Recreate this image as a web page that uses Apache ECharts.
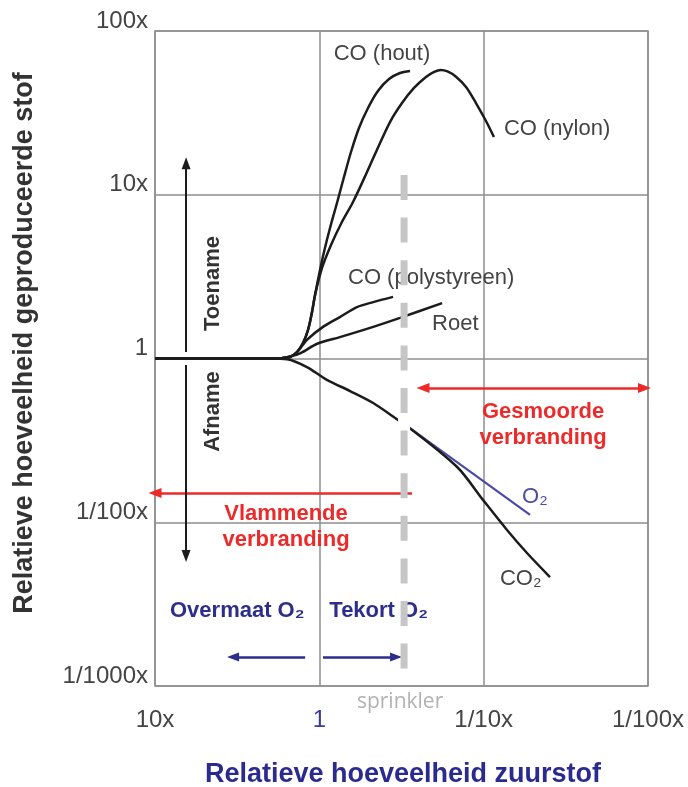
<!DOCTYPE html>
<html><head><meta charset="utf-8">
<script src="https://cdn.jsdelivr.net/npm/echarts@6/dist/echarts.min.js"></script>
<style>html,body{margin:0;padding:0;background:#fff}#c{width:688px;height:787px}</style>
</head><body><div id="c"></div>
<script>
// ---- tick labels ----
const xTickValues = [10, 1, 0.1, 0.01];
const xTickLabels = ['10x', '1', '1/10x', '1/100x'];
const yTickValues = [100, 10, 1, 0.1, 0.01];
const yTickLabels = ['100x', '10x', '1', '1/100x', '1/1000x'];

// ---- series values [relative oxygen, relative amount produced] ----
const coHout = [[10,1],[5,1],[3,1],[2,1],[1.7,1.005],[1.508,1.02],[1.367,1.096],[1.257,1.244],[1.172,1.493],[1.108,1.923],[1.062,2.442],[1.005,3.236],[0.937,4.471],[0.861,6.265],[0.781,8.905],[0.708,12.83],[0.6417,18.24],[0.5737,25.56],[0.5056,33.88],[0.44,43.0],[0.3767,50.9],[0.323,55.41],[0.2806,57.0]];
const coNylon = [[10,1],[5,1],[3,1],[2,1],[1.7,1.005],[1.508,1.02],[1.367,1.096],[1.257,1.244],[1.172,1.493],[1.108,1.923],[1.062,2.442],[0.963,3.572],[0.849,4.934],[0.735,6.7],[0.625,9.0],[0.528,12.9],[0.445,18.9],[0.3715,27.8],[0.314,36.3],[0.2654,44.9],[0.2244,52.4],[0.2,56.3],[0.182,57.8],[0.166,56.6],[0.1474,52.6],[0.128,45.5],[0.1114,36.3],[0.0968,28.2],[0.0866,22.53]];
const coPolystyreen = [[10,1],[5,1],[3,1],[2,1],[1.7,1.005],[1.5,1.03],[1.37,1.09],[1.19,1.3],[0.95,1.56],[0.75,1.79],[0.59,2.06],[0.47,2.21],[0.356,2.38]];
const roet = [[10,1],[5,1],[3,1],[2,1],[1.7,1.005],[1.5,1.03],[1.3,1.08],[1.03,1.23],[0.75,1.35],[0.47,1.56],[0.323,1.77],[0.179,2.18]];
const afname = [[10,1],[5,1],[3,1],[2,1],[1.57,0.99],[1.19,0.887],[0.9,0.74],[0.65,0.633],[0.47,0.535],[0.332,0.421],[0.288,0.382]];
const o2 = [[0.288,0.382],[0.0522,0.111]];
const co2 = [[0.288,0.382],[0.145,0.2175],[0.101,0.137],[0.0721,0.0897],[0.0545,0.0649],[0.0395,0.0463]];
const sprinkler = [[0.305,13.2],[0.305,0.01]];
const sprinklerGap = [[0.305,0.445],[0.305,0.365]];

const FONT = '"Liberation Sans", Arial, sans-serif';
const RED = '#ec2a2a', NAVY = '#2d2d8c', INK = '#1c1c1c', GRID = '#8e8e8e';

function tickFmt(values, labels, blueOne){
  return function(v){
    const e = Math.round(Math.log10(v));
    const i = values.findIndex(t => Math.round(Math.log10(t)) === e);
    if (i < 0) return '';
    const s = labels[i];
    return (blueOne && s === '1') ? '{b|1}' : s;
  };
}
function curve(name, data, color, width, smooth){
  return {name, type:'line', data, showSymbol:false, symbol:'none', smooth: smooth,
    lineStyle:{color, width}, silent:true, z:3};
}
function arrows(name, color, width, size, pairs){
  return {name, type:'line', data:[], silent:true, z:4,
    markLine:{silent:true, animation:false, symbolSize:size, label:{show:false},
      lineStyle:{color, width, type:'solid'}, emphasis:{disabled:true},
      data: pairs.map(p => [{coord:p[0], symbol:p[2]}, {coord:p[1], symbol:p[3]}])}};
}

const chart = echarts.init(document.getElementById('c'));
chart.setOption({
  animation:false,
  backgroundColor:'#fff',
  grid:{left:155, top:31, width:493, height:655, show:true, borderColor:GRID, borderWidth:1.5},
  xAxis:{type:'log', logBase:10, min:0.01, max:10, inverse:true,
    axisLine:{show:false}, axisTick:{show:false},
    splitLine:{show:true, lineStyle:{color:GRID, width:1.5}},
    axisLabel:{margin:22, fontSize:24, fontFamily:FONT, color:'#444',
      formatter: tickFmt(xTickValues, xTickLabels, true),
      rich:{b:{color:'#3b3b9e', fontSize:24, fontFamily:FONT}}}},
  yAxis:{type:'log', logBase:10, min:0.01, max:100,
    axisLine:{show:false}, axisTick:{show:false},
    splitLine:{show:true, lineStyle:{color:GRID, width:1.5}},
    axisLabel:{margin:7, fontSize:24, fontFamily:FONT, color:'#444', verticalAlign:'bottom', lineHeight:20,
      formatter: tickFmt(yTickValues, yTickLabels, false)}},
  series:[
    curve('CO (hout)', coHout, INK, 2.5, 0.3),
    curve('CO (nylon)', coNylon, INK, 2.5, 0.3),
    curve('CO (polystyreen)', coPolystyreen, INK, 2.5, 0.3),
    curve('Roet', roet, INK, 2.5, 0.3),
    curve('Afname', afname, INK, 2.5, 0.3),
    curve('O2', o2, '#4b4ba6', 2.2, false),
    curve('CO2', co2, INK, 2.5, 0.3),
    {name:'gap', type:'line', data:sprinklerGap, symbol:'none', silent:true, z:11,
      lineStyle:{color:'#ffffff', width:12}},
    {name:'sprinkler', type:'line', data:sprinkler, symbol:'none', silent:true, z:12,
      lineStyle:{color:'#c6c6c6', width:7, type:[25,17.6]}},
    arrows('red', RED, 2.5, [10,13], [
      [[0.234,0.66],[0.0105,0.66],'triangle','triangle'],
      [[0.273,0.151],[10,0.151],'none','triangle']
    ]),
    arrows('blue', NAVY, 2.5, [9,12], [
      [[1.22,0.01503],[3.35,0.01503],'none','triangle'],
      [[0.95,0.01503],[0.3414,0.01503],'none','triangle']
    ]),
    arrows('black', INK, 2, [9,12], [
      [[6.47,1.096],[6.47,15.6],'none','triangle'],
      [[6.47,0.913],[6.47,0.0622],'none','triangle']
    ])
  ]
});

// ---- text annotations anchored at data coordinates ----
const notes = [
  {t:'CO (hout)', at:[0.55,80], dx:20, dy:7, align:'center', font:'22px '+FONT, fill:'#444'},
  {t:'CO (nylon)', at:[0.0866,22.53], dx:10, dy:-8, align:'left', font:'22px '+FONT, fill:'#444'},
  {t:'CO (polystyreen)', at:[0.95,3.0], dx:25, dy:-2, align:'left', font:'22px '+FONT, fill:'#444'},
  {t:'Roet', at:[0.179,2.18], dx:-10, dy:21, align:'left', font:'22px '+FONT, fill:'#444'},
  {t:'O₂', at:[0.0522,0.111], dx:-8, dy:-18, align:'left', font:'22px '+FONT, fill:'#4b4ba6'},
  {t:'CO₂', at:[0.0395,0.0463], dx:-50, dy:2, align:'left', font:'22px '+FONT, fill:'#444'},
  {t:'Gesmoorde\nverbranding', at:[0.0522,0.111], dx:13, dy:-90, align:'center', font:'bold 22px '+FONT, fill:RED, lh:26},
  {t:'Vlammende\nverbranding', at:[10,0.151], dx:131, dy:34, align:'center', font:'bold 22px '+FONT, fill:RED, lh:26},
  {t:'Toename', at:[6.47,1], dx:27, dy:-75, align:'center', font:'bold 22px '+FONT, fill:'#333', rot:true},
  {t:'Afname', at:[6.47,1], dx:27, dy:53, align:'center', font:'bold 22px '+FONT, fill:'#333', rot:true},
  {t:'Overmaat O₂', at:[10,0.01503], dx:15, dy:-46, align:'left', font:'bold 22px '+FONT, fill:NAVY},
  {t:'Tekort O₂', at:[1,0.01503], dx:10, dy:-46, align:'left', font:'bold 22px '+FONT, fill:NAVY},
];
const graphics = notes.map(n => {
  const p = chart.convertToPixel({gridIndex:0}, n.at);
  return {type:'text', x:p[0]+(n.dx||0), y:p[1]+(n.dy||0), rotation:n.rot?Math.PI/2:0, z:10, silent:true,
    style:{text:n.t, font:n.font, fill:n.fill, align:n.align, textAlign:n.align,
      verticalAlign:'middle', textVerticalAlign:'middle', lineHeight:n.lh||24}};
});
const sp = chart.convertToPixel({gridIndex:0}, [0.305, 0.01]);
graphics.push({type:'text', x:sp[0]-4, y:sp[1]+16, z:20, silent:true,
  style:{text:'sprinkler', font:'21px "Open Sans", sans-serif', fill:'#b2b2b2',
    align:'center', textAlign:'center', verticalAlign:'middle', textVerticalAlign:'middle'}});
graphics.push({type:'text', x:403, y:775, z:10, silent:true,
  style:{text:'Relatieve hoeveelheid zuurstof', font:'bold 27px '+FONT, fill:'#2b2b8f',
    align:'center', textAlign:'center', verticalAlign:'middle', textVerticalAlign:'middle'}});
graphics.push({type:'text', x:25, y:343, rotation:Math.PI/2, z:10, silent:true,
  style:{text:'Relatieve hoeveelheid geproduceerde stof', font:'bold 27px '+FONT, fill:'#333',
    align:'center', textAlign:'center', verticalAlign:'middle', textVerticalAlign:'middle'}});
chart.setOption({graphic:graphics});
</script></body></html>
